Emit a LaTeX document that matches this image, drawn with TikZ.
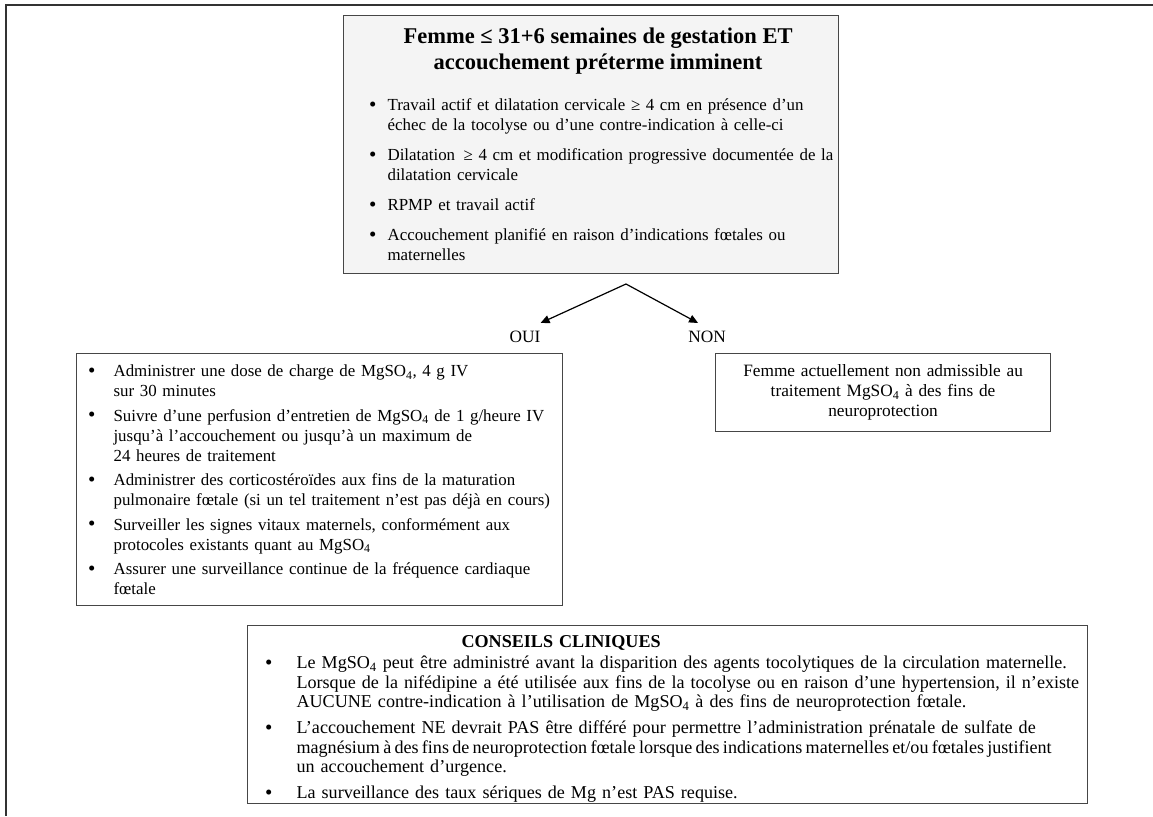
\documentclass[tikz,border=0pt]{standalone}
\usepackage{fontspec}
\setmainfont{Liberation Serif}
\usetikzlibrary{arrows.meta, positioning}
\definecolor{trait}{RGB}{70, 70, 70}
\definecolor{cadre}{RGB}{50, 50, 50}
\definecolor{fond}{RGB}{244, 244, 244}
\newcommand{\puce}{\raisebox{-0.8pt}{\fontsize{21}{20}\selectfont\textbullet}}
% liste a puces : retrait, ecart puce, ecart items
\newenvironment{puces}[3]{%
  \begin{list}{\puce}{%
    \setlength{\leftmargin}{#1}\setlength{\labelsep}{#2}%
    \setlength{\labelwidth}{10pt}\setlength{\itemsep}{#3}%
    \setlength{\rightmargin}{-30pt}%
    \setlength{\topsep}{0pt}\setlength{\parsep}{0pt}\setlength{\partopsep}{0pt}}}%
  {\end{list}}

\begin{document}
\begin{tikzpicture}[x=1pt, y=-1pt, >={Triangle[length=9pt,width=8pt]},
    boite/.style={draw=trait, line width=1.1pt, rectangle, anchor=north west, inner xsep=7pt, inner ysep=0pt},
    corps/.style={font=\fontsize{16.9}{20}\selectfont},
    reponse/.style={font=\fontsize{17.3}{20}\selectfont, inner xsep=0pt, inner ysep=8pt},
    fleche/.style={->, line width=1.2pt}]
    \useasboundingbox (0,0) rectangle (1153,816);
    \draw[cadre, line width=2pt] (1153,5) -- (6,5) -- (6,816);

    \node[boite, corps, fill=fond, text width=481pt, minimum height=258pt, align=left] (femme) at (343,15) {%
        {\leftskip=14pt plus 1fil\rightskip=0pt plus 1fil\parfillskip=0pt\fontsize{22.5}{26}\selectfont\bfseries Femme ≤ 31+6 semaines de gestation ET\\accouchement préterme imminent\par}
        \vspace{21pt}
        \begin{puces}{37pt}{11pt}{10pt}
            \item Travail actif et dilatation cervicale ≥ 4 cm en présence d'un\\échec de la tocolyse ou d'une contre-indication à celle-ci
            \item Dilatation \,≥ 4 cm et modification progressive documentée de la\\dilatation cervicale
            \item RPMP et travail actif
            \item Accouchement planifié en raison d'indications fœtales ou\\maternelles
        \end{puces}};

    \coordinate (sommet) at (626,284);
    \node[reponse] (oui) at (525,337) {OUI};
    \node[reponse] (non) at (707,337) {NON};
    \draw[fleche] (sommet) -- (oui.north east);
    \draw[fleche] (sommet) -- ([xshift=10pt]non.north west);

    \node[boite, corps, text width=472pt, minimum height=252pt, align=left] (oui box) at (76,353) {%
        \begin{puces}{30pt}{18pt}{4.5pt}
            \item Administrer une dose de charge de MgSO\textsubscript{4}, 4 g IV\\sur 30 minutes
            \item Suivre d'une perfusion d'entretien de MgSO\textsubscript{4} de 1 g/heure IV\\jusqu'à l'accouchement ou jusqu'à un maximum de\\24 heures de traitement
            \item Administrer des corticostéroïdes aux fins de la maturation\\pulmonaire fœtale (si un tel traitement n'est pas déjà en cours)
            \item Surveiller les signes vitaux maternels, conformément aux\\protocoles existants quant au MgSO\textsubscript{4}
            \item Assurer une surveillance continue de la fréquence cardiaque\\fœtale\rule[-8pt]{0pt}{0pt}
        \end{puces}};

    \node[boite, text width=321pt, minimum height=78pt, align=center, font=\fontsize{17.3}{20}\selectfont] (non box) at (715,353) {%
        Femme actuellement non admissible au\\traitement MgSO\textsubscript{4} à des fins de\\neuroprotection};

    \node[boite, text width=826pt, minimum height=178pt, align=left, font=\fontsize{18.1}{19.6}\selectfont] (conseils) at (247,625) {%
        \noindent\rule{0pt}{20pt}\hspace*{207pt}\textbf{CONSEILS CLINIQUES}\par
        \vspace{2pt}
        \begin{puces}{42pt}{24pt}{6pt}
            \item Le MgSO\textsubscript{4} peut être administré avant la disparition des agents tocolytiques de la circulation maternelle.\\Lorsque de la nifédipine a été utilisée aux fins de la tocolyse ou en raison d'une hypertension, il n'existe\\AUCUNE contre-indication à l'utilisation de MgSO\textsubscript{4} à des fins de neuroprotection fœtale.
            \item L'accouchement NE devrait PAS être différé pour permettre l'administration prénatale de sulfate de\\{\spaceskip=0.18em magnésium à des fins de neuroprotection fœtale lorsque des indications maternelles et/ou fœtales justifient}\\un accouchement d'urgence.
            \item La surveillance des taux sériques de Mg n'est PAS requise.
        \end{puces}};
\end{tikzpicture}
\end{document}
